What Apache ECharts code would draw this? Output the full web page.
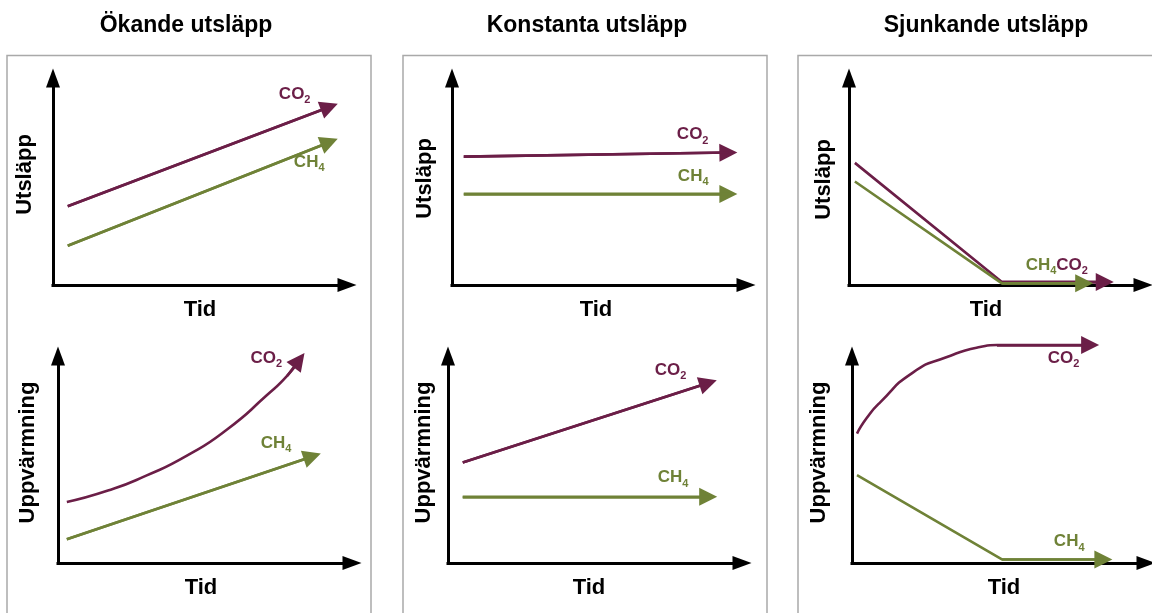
<!DOCTYPE html>
<html><head><meta charset="utf-8">
<script src="https://cdn.jsdelivr.net/npm/echarts@6/dist/echarts.min.js"></script>
<style>html,body{margin:0;padding:0;background:#fff}#c{width:1152px;height:613px}</style>
</head><body><div id="c"></div>
<script>
// ---------- DATA ----------
const panelTitles = ['Ökande utsläpp', 'Konstanta utsläpp', 'Sjunkande utsläpp'];
const xAxisName = 'Tid';
const rowAxisNames = ['Utsläpp', 'Uppvärmning'];
const gasFormulas = [['CO', '2'], ['CH', '4']];   // [main, subscript]

// Top row: emissions (conceptual units 0–10)
const emisRisingCO2 = [[0.5, 3.8], [9.4, 8.6]];
const emisRisingCH4 = [[0.5, 1.9], [9.4, 6.9]];
const emisConstCO2  = [[0.4, 6.2], [9.4, 6.4]];
const emisConstCH4  = [[0.4, 4.4], [9.4, 4.4]];
const emisFallCO2   = [[0.2, 5.9], [5.2, 0.15], [8.7, 0.15]];
const emisFallCH4   = [[0.2, 5.0], [5.2, 0.08], [8.0, 0.08]];

// Bottom row: warming
const warmRisingCO2 = [[0.3, 2.95], [1.7, 3.5], [3.0, 4.22], [4.4, 5.2], [5.75, 6.45], [7.1, 8.1], [7.8, 9.05], [8.2, 9.8]];
const warmRisingCH4 = [[0.3, 1.15], [8.65, 5.15]];
const warmConstCO2  = [[0.5, 4.85], [8.85, 8.7]];
const warmConstCH4  = [[0.5, 3.2], [8.85, 3.2]];
const warmFallCO2   = [[0.17, 6.25], [0.5, 7.0], [0.95, 7.75], [2.07, 9.2], [3.23, 9.95], [4.35, 10.43], [4.93, 10.53], [8.1, 10.53]];
const warmFallCH4   = [[0.17, 4.25], [5.1, 0.17], [8.55, 0.17]];

// ---------- LAYOUT / STYLE ----------
const COLORS = ['#6b1e47', '#6f8237'];
const FONT = '"Liberation Sans", Arial, Helvetica, sans-serif';
const panels = [
  {grid: {left: 53,  top: 78},  series: [emisRisingCO2, emisRisingCH4], yName: rowAxisNames[0], smooth: false, yGap: 17, yShift: 7, xShift: 0,
   labelPos: [[-50, -24], [-35, 9]]},
  {grid: {left: 452, top: 78},  series: [emisConstCO2, emisConstCH4], yName: rowAxisNames[0], smooth: false, yGap: 16, yShift: 3, xShift: -3,
   labelPos: [[-51, -29], [-50, -29]]},
  {grid: {left: 849, top: 78},  series: [emisFallCO2, emisFallCH4], yName: rowAxisNames[0], smooth: false, yGap: 14, yShift: 2, xShift: -10,
   labelPos: [[-48, -28], [-58, -29]]},
  {grid: {left: 58,  top: 356}, series: [warmRisingCO2, warmRisingCH4], yName: rowAxisNames[1], smooth: true, yGap: 19, yShift: 7, xShift: -4,
   labelPos: [[-48, -13], [-51, -24]]},
  {grid: {left: 448, top: 356}, series: [warmConstCO2, warmConstCH4], yName: rowAxisNames[1], smooth: false, yGap: 13, yShift: 7, xShift: -6,
   labelPos: [[-53, -24], [-50, -30]]},
  {grid: {left: 852, top: 356}, series: [warmFallCO2, warmFallCH4], yName: rowAxisNames[1], smooth: true, yGap: 22, yShift: 7, xShift: 5,
   labelPos: [[-42, 2], [-49, -29]]}
];
const titleCenters = [181, 582, 981];
const boxes = [[7, 364], [403, 364], [798, 400]];

function shiftPad(s) { return s >= 0 ? [0, 0, 0, 2 * s] : [0, -2 * s, 0, 0]; }

const option = {
  animation: false,
  backgroundColor: '#fff',
  textStyle: {fontFamily: FONT},
  title: panelTitles.map((t, i) => ({
    text: t, left: titleCenters[i], top: 9, textAlign: 'center',
    textStyle: {fontSize: 23, fontWeight: 'bold', color: '#000', fontFamily: FONT}
  })),
  graphic: boxes.map(b => ({
    type: 'rect', silent: true, z: -1,
    shape: {x: b[0], y: 55.5, width: b[1], height: 620},
    style: {fill: 'none', stroke: '#a9a9a9', lineWidth: 1.5}
  })),
  grid: [], xAxis: [], yAxis: [], series: []
};

panels.forEach((p, i) => {
  option.grid.push({left: p.grid.left, top: p.grid.top, width: 294, height: 207,
    containLabel: false, outerBoundsMode: 'none'});
  const axisLine = {show: true, onZero: false, symbol: ['none', 'triangle'], symbolSize: [14, 19],
    lineStyle: {color: '#000', width: 3, cap: 'square'}};
  const nameStyle = {fontSize: 22, fontWeight: 'bold', color: '#000', fontFamily: FONT};
  option.xAxis.push({gridIndex: i, type: 'value', min: 0, max: 10, axisLine,
    axisTick: {show: false}, axisLabel: {show: false}, splitLine: {show: false},
    name: xAxisName, nameLocation: 'middle', nameGap: 14,
    nameTextStyle: Object.assign({padding: shiftPad(p.xShift)}, nameStyle)});
  option.yAxis.push({gridIndex: i, type: 'value', min: 0, max: 10, axisLine,
    axisTick: {show: false}, axisLabel: {show: false}, splitLine: {show: false},
    name: p.yName, nameLocation: 'middle', nameGap: p.yGap,
    nameTextStyle: Object.assign({padding: shiftPad(p.yShift)}, nameStyle)});

  p.series.forEach((data, k) => {
    const color = COLORS[k];
    const n = data.length;
    option.series.push({
      type: 'line', xAxisIndex: i, yAxisIndex: i, data,
      smooth: p.smooth && n > 3 ? 0.6 : false,
      showSymbol: false, symbol: 'none', clip: false, silent: true, z: 3 + k,
      lineStyle: {color, width: 2.6}
    });
    option.series.push({
      type: 'lines', coordinateSystem: 'cartesian2d', xAxisIndex: i, yAxisIndex: i,
      data: [{coords: [data[n - 2], data[n - 1]]}],
      symbol: ['none', 'triangle'], symbolSize: [13, 18], clip: false, silent: true, z: 3 + k,
      lineStyle: {color, width: 2.6, opacity: 1}, itemStyle: {color}
    });
    option.series.push({
      type: 'scatter', xAxisIndex: i, yAxisIndex: i, data: [data[n - 1]],
      symbol: 'circle', symbolSize: 1, clip: false, silent: true, z: 6,
      itemStyle: {color: 'rgba(0,0,0,0)', opacity: 1},
      label: {show: true, position: p.labelPos[k], color, opacity: 1,
        formatter: '{m|' + gasFormulas[k][0] + '}{s|' + gasFormulas[k][1] + '}',
        rich: {
          m: {fontSize: 17, fontWeight: 'bold', color, lineHeight: 23, fontFamily: FONT},
          s: {fontSize: 11, fontWeight: 'bold', color, lineHeight: 8, verticalAlign: 'bottom', fontFamily: FONT}
        }}
    });
  });
});

const chart = echarts.init(document.getElementById('c'), null, {renderer: 'canvas'});
chart.setOption(option);
</script></body></html>
